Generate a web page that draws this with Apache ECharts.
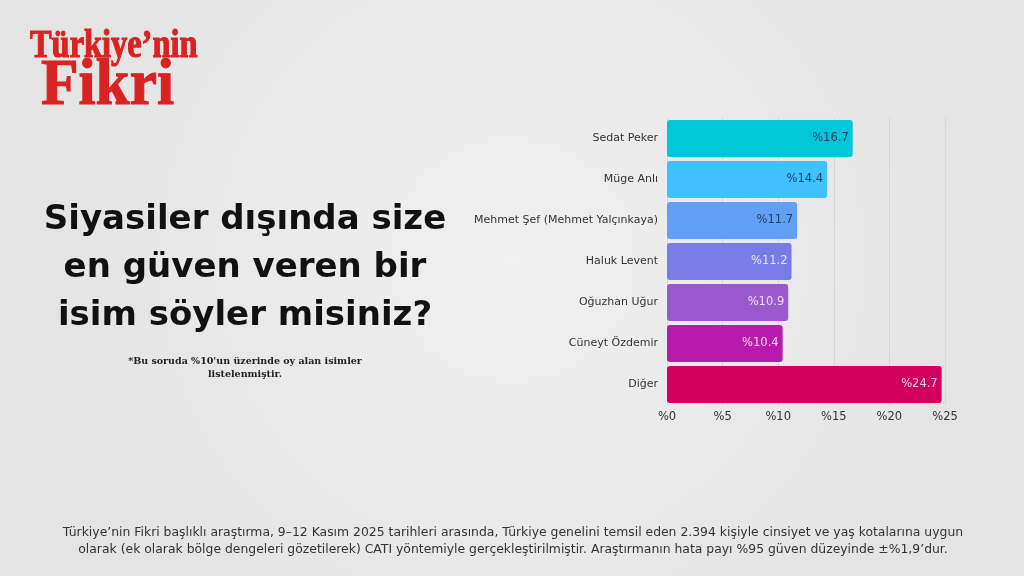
<!DOCTYPE html>
<html><head><meta charset="utf-8">
<script src="https://cdn.jsdelivr.net/npm/echarts@6/dist/echarts.min.js"></script>
<style>html,body{margin:0;padding:0;background:#ececec}#c{width:1024px;height:576px}</style>
</head><body><div id="c"></div>
<script>
const categories = ["Sedat Peker","Müge Anlı","Mehmet Şef (Mehmet Yalçınkaya)","Haluk Levent","Oğuzhan Uğur","Cüneyt Özdemir","Diğer"];
const values = [16.7, 14.4, 11.7, 11.2, 10.9, 10.4, 24.7];
const tickLabels = ["%0","%5","%10","%15","%20","%25"];
const barColors = ["#00c6da","#40c0fe","#60a0f6","#7a7ce6","#9c58cf","#b91aae","#d4005f"];
const labelColors = ["#1e3f5c","#1e3f5c","#1e3f5c","#e8e0f8","#f0dcf6","#f6d6f0","#f8d0e2"];

const chart = echarts.init(document.getElementById('c'), null, {renderer:'canvas'});
const logoStyle = {fill:'#d92323', stroke:'#d92323', lineWidth:1.2, shadowColor:'rgba(0,0,0,0.35)', shadowBlur:2, shadowOffsetX:1.5, shadowOffsetY:1.5};
const titleStyle = {font:'bold 34px "DejaVu Sans"', fill:'#111', align:'center', verticalAlign:'middle', shadowColor:'rgba(0,0,0,0.5)', shadowBlur:3, shadowOffsetX:2, shadowOffsetY:2};
chart.setOption({
  backgroundColor: {type:'radial', x:0.5, y:0.45, r:0.8, colorStops:[{offset:0,color:'#f0f0f0'},{offset:1,color:'#e4e4e4'}]},
  animation:false,
  grid:{left:667, right:79, top:118, bottom:171, containLabel:false},
  xAxis:{type:'value', min:0, max:25, interval:5,
    axisLine:{show:false}, axisTick:{show:false},
    splitLine:{show:true, lineStyle:{color:'#d6d6d6', width:1}},
    axisLabel:{color:'#333', fontSize:11.5, fontFamily:'DejaVu Sans', margin:6,
      formatter:(v)=>tickLabels[Math.round(v/5)]}
  },
  yAxis:{type:'category', data:categories, inverse:true,
    axisLine:{show:false}, axisTick:{show:false},
    axisLabel:{color:'#333', fontSize:11, fontFamily:'DejaVu Sans', margin:9}
  },
  series:[{type:'bar', barWidth:37,
    data: values.map((v,i)=>({value:v,
      itemStyle:{color:barColors[i], borderRadius:3},
      label:{color:labelColors[i]}})),
    label:{show:true, position:'insideRight', distance:4, fontSize:11.5, fontFamily:'DejaVu Sans',
      formatter:(p)=>'%'+p.value.toFixed(1)}
  }],
  graphic:[
    {type:'text', x:30, y:27, scaleX:0.81, style:Object.assign({text:"Türkiye’nin", font:'bold 40px "Liberation Serif"'}, logoStyle)},
    {type:'text', x:41, y:54, scaleX:0.93, style:Object.assign({text:"Fikri", font:'bold 66px "Liberation Serif"'}, logoStyle)},
    {type:'text', x:245, y:220, style:Object.assign({text:"Siyasiler dışında size"}, titleStyle)},
    {type:'text', x:245, y:268, style:Object.assign({text:"en güven veren bir"}, titleStyle)},
    {type:'text', x:245, y:316, style:Object.assign({text:"isim söyler misiniz?"}, titleStyle)},
    {type:'text', x:245, y:362, style:{text:"*Bu soruda %10'un üzerinde oy alan isimler", font:'bold 9.5px "DejaVu Serif"', fill:'#222', align:'center', verticalAlign:'middle'}},
    {type:'text', x:245, y:375, style:{text:"listelenmiştir.", font:'bold 9.5px "DejaVu Serif"', fill:'#222', align:'center', verticalAlign:'middle'}},
    {type:'text', x:513, y:533, style:{text:"Türkiye’nin Fikri başlıklı araştırma, 9–12 Kasım 2025 tarihleri arasında, Türkiye genelini temsil eden 2.394 kişiyle cinsiyet ve yaş kotalarına uygun", font:'12.4px "DejaVu Sans"', fill:'#333', align:'center', verticalAlign:'middle'}},
    {type:'text', x:513, y:550, style:{text:"olarak (ek olarak bölge dengeleri gözetilerek) CATI yöntemiyle gerçekleştirilmiştir. Araştırmanın hata payı %95 güven düzeyinde ±%1,9’dur.", font:'12.4px "DejaVu Sans"', fill:'#333', align:'center', verticalAlign:'middle'}}
  ]
});
</script></body></html>
